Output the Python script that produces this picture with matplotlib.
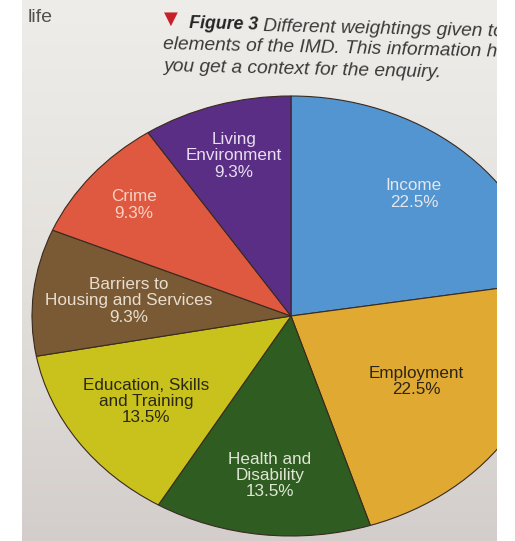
import numpy as np
import matplotlib.pyplot as plt
from matplotlib.patches import Rectangle
from matplotlib.colors import LinearSegmentedColormap

# IMD domain weightings (clockwise from 12 o'clock)
domains = ["Income", "Employment", "Health and\nDisability", "Education, Skills\nand Training",
           "Barriers to\nHousing and Services", "Crime", "Living\nEnvironment"]
weights = [22.5, 22.5, 13.5, 13.5, 9.3, 9.3, 9.3]

colors = ["#5295d0", "#e0aa32", "#2f5c20", "#c9c21d", "#7a5a34", "#df5940", "#5a2e84"]
txt_colors = ["#e6e6ee", "#2b2418", "#dfe6d6", "#2a2814", "#e8ded0", "#f6d2c4", "#e8def0"]
label_r = [0.73, 0.57, 0.73, 0.68, 0.63, 0.79, 0.76]

W, H = 515, 541
fig = plt.figure(figsize=(W / 100, H / 100), dpi=100)
fig.patch.set_facecolor("white")

# page background (photo area)
bg = fig.add_axes([22 / W, 0, 475 / W, 1])
grad = np.linspace(0, 1, 256)[:, None]
cm = LinearSegmentedColormap.from_list("page", ["#eeede9", "#e4e1dd", "#d3cecb"])
bg.imshow(grad, aspect="auto", cmap=cm, extent=[0, 1, 0, 1])
bg.axis("off")

# pie, slightly elliptical because of the photo perspective
cx, cy, rx, ry = 291, 316, 259, 220
ax = fig.add_axes([(cx - rx) / W, (H - cy - ry) / H, 2 * rx / W, 2 * ry / H])
wedges, _ = ax.pie(weights, colors=colors, startangle=90, counterclock=False,
                   wedgeprops=dict(edgecolor="#3a2a20", linewidth=0.8))
ax.set_aspect("auto")
ax.set_xlim(-1, 1)
ax.set_ylim(-1, 1)
ax.axis("off")

for w, name, v, tc, r in zip(wedges, domains, weights, txt_colors, label_r):
    a = np.deg2rad((w.theta1 + w.theta2) / 2)
    ax.text(r * np.cos(a), r * np.sin(a), f"{name}\n{v}%", ha="center", va="center",
            color=tc, fontsize=12.3, family="Liberation Sans", linespacing=1.1)

# caption text
cap = dict(color="#3a3a3a", style="italic", family="Liberation Sans", va="baseline",
           ha="left", rotation=-1.3, rotation_mode="anchor", fontsize=13.8)
fig.text(28 / W, 1 - 17 / H, "life", fontsize=14, color="#555050", family="Liberation Sans",
         va="center")
fig.text(164 / W, 1 - 19 / H, "\u25bc", fontsize=13, color="#c8202a", va="center")
fig.text(189 / W, 1 - 28 / H, "Figure 3", weight="bold", **dict(cap, fontsize=12.8,
                                                                 color="#222"))
fig.text(263 / W, 1 - 31 / H, "Different weightings given to", **cap)
fig.text(163 / W, 1 - 49 / H, "elements of the IMD. This information h", **cap)
fig.text(163 / W, 1 - 71 / H, "you get a context for the enquiry.", **cap)

# white margin on the right cuts the photo
fig.add_artist(Rectangle((497 / W, 0), 18 / W, 1, transform=fig.transFigure,
                         facecolor="white", edgecolor="none", zorder=10))

fig.savefig("out.png", dpi=100)
